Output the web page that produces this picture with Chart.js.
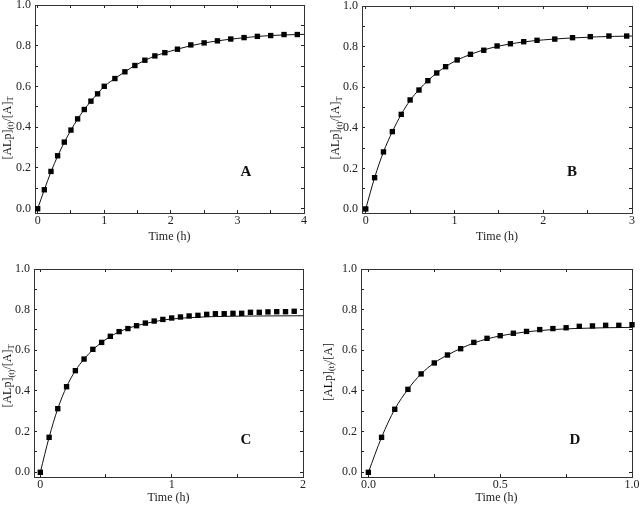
<!DOCTYPE html>
<html>
<head>
<meta charset="utf-8">
<script src="https://cdn.jsdelivr.net/npm/chart.js@4.4.1/dist/chart.umd.min.js"></script>
<style>
  html, body { margin: 0; padding: 0; background: #fff; }
  #wrap { position: relative; width: 640px; height: 509px; overflow: hidden; }
  #wrap canvas { position: absolute; left: 0; top: 0; }
</style>
</head>
<body>
<div id="wrap">
  <canvas id="chartA" width="640" height="509"></canvas>
  <canvas id="chartB" width="640" height="509"></canvas>
  <canvas id="chartC" width="640" height="509"></canvas>
  <canvas id="chartD" width="640" height="509"></canvas>
</div>
<script>
// Datos (tiempo en horas, fraccion [ALp]/[A])
const timeA = [0, 0.1, 0.2, 0.3, 0.4, 0.5, 0.6, 0.7, 0.8, 0.9, 1.0, 1.16, 1.31, 1.46, 1.61, 1.76, 1.91, 2.1, 2.3, 2.5, 2.7, 2.9, 3.1, 3.3, 3.5, 3.7, 3.9];
const valuesA = [0, 0.093, 0.183, 0.26, 0.327, 0.386, 0.441, 0.487, 0.528, 0.564, 0.601, 0.639, 0.672, 0.703, 0.729, 0.75, 0.766, 0.783, 0.804, 0.814, 0.824, 0.833, 0.84, 0.846, 0.85, 0.855, 0.855];
const fitTimeA = [0, 0.1, 0.2, 0.3, 0.4, 0.5, 0.6, 0.7, 0.8, 0.9, 1.0, 1.2, 1.4, 1.6, 1.8, 2.0, 2.3, 2.6, 3.0, 3.4, 3.7, 4.0];
const fitA = [0, 0.093, 0.181, 0.258, 0.326, 0.386, 0.44, 0.487, 0.528, 0.565, 0.6, 0.648, 0.691, 0.727, 0.754, 0.774, 0.8, 0.819, 0.836, 0.848, 0.853, 0.856];

const timeB = [0, 0.1, 0.2, 0.3, 0.4, 0.5, 0.6, 0.7, 0.8, 0.9, 1.03, 1.18, 1.33, 1.48, 1.63, 1.78, 1.93, 2.13, 2.33, 2.53, 2.74, 2.94];
const valuesB = [0, 0.154, 0.281, 0.381, 0.466, 0.537, 0.586, 0.632, 0.67, 0.701, 0.734, 0.762, 0.782, 0.803, 0.814, 0.824, 0.831, 0.837, 0.844, 0.849, 0.852, 0.852];
const fitTimeB = [0, 0.1, 0.2, 0.3, 0.4, 0.5, 0.6, 0.7, 0.8, 0.9, 1.0, 1.2, 1.4, 1.6, 1.8, 2.0, 2.3, 2.6, 3.0];
const fitB = [0, 0.154, 0.281, 0.381, 0.466, 0.535, 0.588, 0.632, 0.67, 0.701, 0.727, 0.765, 0.792, 0.811, 0.824, 0.833, 0.842, 0.848, 0.852];

const timeC = [0, 0.067, 0.133, 0.2, 0.267, 0.333, 0.4, 0.467, 0.533, 0.6, 0.667, 0.733, 0.8, 0.867, 0.933, 1.0, 1.067, 1.133, 1.2, 1.267, 1.333, 1.4, 1.467, 1.533, 1.6, 1.667, 1.733, 1.8, 1.867, 1.933];
const valuesC = [0, 0.172, 0.313, 0.421, 0.5, 0.557, 0.605, 0.639, 0.669, 0.692, 0.707, 0.721, 0.734, 0.744, 0.752, 0.759, 0.764, 0.769, 0.772, 0.777, 0.78, 0.78, 0.782, 0.782, 0.787, 0.787, 0.789, 0.79, 0.79, 0.792];
const fitTimeC = [0, 0.067, 0.133, 0.2, 0.267, 0.333, 0.4, 0.467, 0.533, 0.6, 0.667, 0.733, 0.8, 0.9, 1.0, 1.2, 1.4, 1.7, 2.0];
const fitC = [0, 0.172, 0.313, 0.421, 0.5, 0.557, 0.603, 0.639, 0.668, 0.691, 0.708, 0.721, 0.732, 0.745, 0.754, 0.763, 0.767, 0.769, 0.77];

const timeD = [0, 0.05, 0.1, 0.15, 0.2, 0.25, 0.3, 0.35, 0.4, 0.45, 0.5, 0.55, 0.6, 0.65, 0.7, 0.75, 0.8, 0.85, 0.9, 0.95, 1.0];
const valuesD = [0, 0.172, 0.31, 0.408, 0.484, 0.538, 0.577, 0.608, 0.639, 0.659, 0.672, 0.684, 0.693, 0.702, 0.707, 0.711, 0.718, 0.72, 0.723, 0.723, 0.726];
const fitTimeD = [0, 0.05, 0.1, 0.15, 0.2, 0.25, 0.3, 0.35, 0.4, 0.45, 0.5, 0.55, 0.6, 0.7, 0.8, 0.9, 1.0];
const fitD = [0, 0.172, 0.31, 0.408, 0.484, 0.538, 0.577, 0.609, 0.636, 0.656, 0.671, 0.682, 0.691, 0.702, 0.708, 0.711, 0.713];

const FAMILY = "'Liberation Serif', 'Times New Roman', serif";
const FONT_SIZE = 12;
const W = 640, H = 509;

const toXY = (xs, ys) => xs.map((x, i) => ({ x: x, y: ys[i] }));

// Solo se rotulan los ticks mayores; los menores quedan como marca
const tickLabel = (major, dec) => v => {
    const r = v / major;
    return Math.abs(r - Math.round(r)) < 1e-6 ? v.toFixed(dec) : '';
};

// Titulo del eje Y con subindices y letra del panel
const panelText = {
    id: 'panelText',
    afterDraw(chart, args, opts) {
        const ctx = chart.ctx;
        ctx.save();
        ctx.fillStyle = '#111';
        ctx.font = 'bold 15px ' + FAMILY;
        ctx.textAlign = 'center';
        ctx.textBaseline = 'middle';
        ctx.fillText(opts.letter, opts.letterX, opts.letterY);

        ctx.translate(opts.titleX, opts.titleY);
        ctx.rotate(-Math.PI / 2);
        ctx.textAlign = 'left';
        ctx.textBaseline = 'alphabetic';
        const fontOf = p => (p.sub ? '8.5px ' : '12px ') + FAMILY;
        const parts = opts.title.map(p => {
            ctx.font = fontOf(p);
            return { t: p.t, sub: p.sub, w: ctx.measureText(p.t).width };
        });
        let x = -parts.reduce((a, p) => a + p.w, 0) / 2;
        parts.forEach(p => {
            ctx.font = fontOf(p);
            ctx.fillText(p.t, x, p.sub ? 2.5 : 0);
            x += p.w;
        });
        ctx.restore();
    }
};

function axisBase(min, max, step, major, dec, showLabels, pos) {
    return {
        type: 'linear',
        position: pos,
        display: true,
        min: min,
        max: max,
        grid: { drawOnChartArea: false, tickLength: -3, color: '#222', tickWidth: 1 },
        border: { display: true, color: '#333', width: 1 },
        ticks: {
            display: showLabels,
            stepSize: step,
            includeBounds: false,
            autoSkip: false,
            maxRotation: 0,
            color: '#222',
            font: { family: FAMILY, size: FONT_SIZE },
            callback: tickLabel(major, dec)
        }
    };
}

function createPanel(id, cfg) {
    const box = cfg.box;
    const half = FONT_SIZE * 1.2 / 2;
    const noPad = s => { s.paddingTop = 0; s.paddingBottom = 0; s.paddingLeft = 0; s.paddingRight = 0; };

    const x = axisBase(cfg.xMin, cfg.xMax, cfg.xStep, cfg.xMajor, cfg.xDec, true, 'bottom');
    x.ticks.padding = 11 - half;
    x.title = {
        display: true, text: 'Time (h)', color: '#222',
        font: { family: FAMILY, size: FONT_SIZE },
        padding: { top: 0, bottom: H - cfg.xTitleY - half }
    };
    x.afterFit = s => { s.height = H - box.b; noPad(s); };

    const x2 = axisBase(cfg.xMin, cfg.xMax, cfg.xStep, cfg.xMajor, cfg.xDec, false, 'top');
    x2.afterFit = s => { s.height = box.t; noPad(s); };

    const y = axisBase(cfg.yMin, 1.0, 0.1, 0.2, 1, true, 'left');
    y.ticks.padding = 7;
    y.afterFit = s => { s.width = box.l; noPad(s); };

    const y2 = axisBase(cfg.yMin, 1.0, 0.1, 0.2, 1, false, 'right');
    y2.afterFit = s => { s.width = W - box.r; noPad(s); };

    new Chart(document.getElementById(id), {
        type: 'scatter',
        data: {
            datasets: [
                {
                    data: toXY(cfg.fitX, cfg.fitY),
                    xAxisID: 'x', yAxisID: 'y',
                    showLine: true,
                    borderColor: '#111',
                    borderWidth: 1,
                    pointRadius: 0,
                    cubicInterpolationMode: 'monotone',
                    order: 2
                },
                {
                    data: toXY(cfg.px, cfg.py),
                    xAxisID: 'x', yAxisID: 'y',
                    showLine: false,
                    pointStyle: 'rect',
                    pointRadius: 3.8,
                    backgroundColor: '#000',
                    borderColor: '#000',
                    borderWidth: 0,
                    clip: false,
                    order: 1
                }
            ]
        },
        options: {
            responsive: false,
            animation: false,
            events: [],
            layout: { padding: 0 },
            plugins: {
                legend: { display: false },
                tooltip: { enabled: false },
                panelText: cfg.text
            },
            scales: { x: x, x2: x2, y: y, y2: y2 }
        },
        plugins: [panelText]
    });
}

const titleT = [{ t: '[ALp]' }, { t: '(t)', sub: true }, { t: '/[A]' }, { t: 'T', sub: true }];
const titleNoT = [{ t: '[ALp]' }, { t: '(t)', sub: true }, { t: '/[A]' }];

createPanel('chartA', {
    box: { l: 35, t: 5, r: 304, b: 213 },
    xMin: -0.04, xMax: 4, xStep: 0.5, xMajor: 1, xDec: 0, yMin: -0.021, xTitleY: 237,
    px: timeA, py: valuesA, fitX: fitTimeA, fitY: fitA,
    text: { letter: 'A', letterX: 246, letterY: 172, title: titleT, titleX: 10.5, titleY: 128 }
});
createPanel('chartB', {
    box: { l: 362, t: 6, r: 632, b: 213 },
    xMin: -0.042, xMax: 3, xStep: 0.5, xMajor: 1, xDec: 0, yMin: -0.02, xTitleY: 237,
    px: timeB, py: valuesB, fitX: fitTimeB, fitY: fitB,
    text: { letter: 'B', letterX: 572, letterY: 172, title: titleT, titleX: 339, titleY: 128 }
});
createPanel('chartC', {
    box: { l: 34, t: 269, r: 303, b: 477 },
    xMin: -0.048, xMax: 2, xStep: 0.5, xMajor: 1, xDec: 0, yMin: -0.023, xTitleY: 498,
    px: timeC, py: valuesC, fitX: fitTimeC, fitY: fitC,
    text: { letter: 'C', letterX: 246, letterY: 440, title: titleT, titleX: 11, titleY: 376 }
});
createPanel('chartD', {
    box: { l: 361, t: 269, r: 632, b: 477 },
    xMin: -0.028, xMax: 1, xStep: 0.25, xMajor: 0.5, xDec: 1, yMin: -0.023, xTitleY: 498,
    px: timeD, py: valuesD, fitX: fitTimeD, fitY: fitD,
    text: { letter: 'D', letterX: 575, letterY: 440, title: titleNoT, titleX: 331.5, titleY: 372 }
});
</script>
</body>
</html>
